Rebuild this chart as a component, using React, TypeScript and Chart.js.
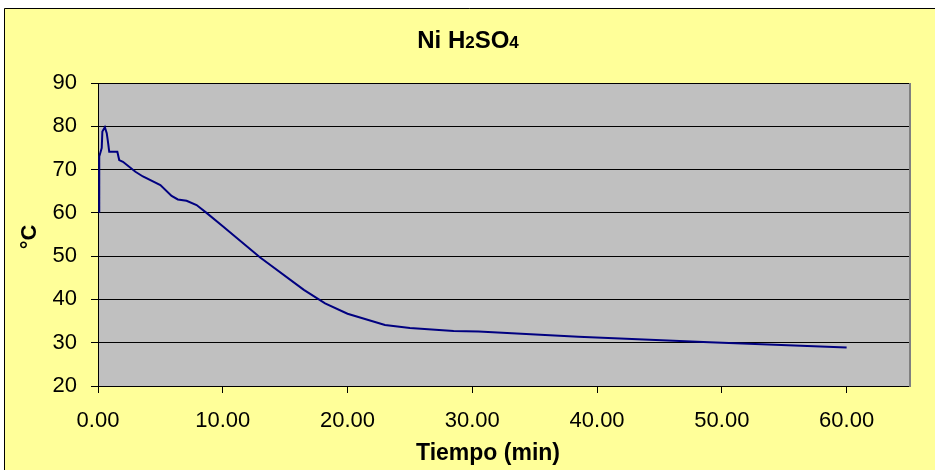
import React, { useEffect, useRef } from "react";
import { Chart, registerables } from "chart.js";

Chart.register(...registerables);

const tiempo = [0.1, 0.1, 0.2, 0.3, 0.35, 0.55, 0.7, 0.8, 0.9, 1.55, 1.7, 2.0, 3.0, 3.6, 5.0, 5.9, 6.4, 7.1, 7.9, 8.7, 10.0, 13.0, 16.5, 18.2, 20.0, 23.0, 25.0, 28.5, 30.5, 38.5, 49.0, 60.0];
const temperatura = [60, 73, 74, 75, 78.8, 79.8, 78.4, 76.4, 74.1, 74.1, 72.2, 71.8, 69.5, 68.4, 66.4, 63.9, 63.1, 62.8, 61.8, 60.0, 56.9, 49.7, 42.2, 39.1, 36.7, 34.1, 33.4, 32.7, 32.6, 31.4, 30.1, 28.9];

const titleParts: [string, boolean][] = [["Ni H", false], ["2", true], ["SO", false], ["4", true]];
const xTitle = "Tiempo (min)";
const yTitle = "°C";

const FONT = "'Liberation Sans', Arial, sans-serif";

const decorPlugin = {
  id: "decor",
  beforeDraw(chart: any) {
    const { ctx, chartArea } = chart;
    ctx.save();
    ctx.fillStyle = "#ffffff";
    ctx.fillRect(0, 0, chart.width, chart.height);
    ctx.fillStyle = "#FFFF99";
    ctx.fillRect(4, 8, chart.width - 4, chart.height - 8);
    ctx.strokeStyle = "#000000";
    ctx.lineWidth = 1;
    ctx.beginPath();
    ctx.moveTo(4.5, chart.height);
    ctx.lineTo(4.5, 8.5);
    ctx.lineTo(chart.width, 8.5);
    ctx.stroke();
    ctx.fillStyle = "#C0C0C0";
    ctx.fillRect(chartArea.left, chartArea.top, chartArea.right - chartArea.left, chartArea.bottom - chartArea.top);
    ctx.restore();
  },
  afterDraw(chart: any) {
    const { ctx, chartArea } = chart;
    ctx.save();
    ctx.strokeStyle = "#808080";
    ctx.lineWidth = 2;
    ctx.beginPath();
    ctx.moveTo(chartArea.right + 1, chartArea.top);
    ctx.lineTo(chartArea.right + 1, chartArea.bottom + 1);
    ctx.stroke();
    ctx.fillStyle = "#000000";
    ctx.textBaseline = "alphabetic";
    ctx.textAlign = "left";
    let total = 0;
    const widths: number[] = [];
    for (const [t, sub] of titleParts) {
      ctx.font = `bold ${sub ? 17 : 24}px ${FONT}`;
      const w = ctx.measureText(t).width;
      widths.push(w);
      total += w;
    }
    let x = 468 - total / 2;
    titleParts.forEach(([t, sub], i) => {
      ctx.font = `bold ${sub ? 17 : 24}px ${FONT}`;
      ctx.fillText(t, x, 48);
      x += widths[i];
    });
    ctx.font = `bold 23px ${FONT}`;
    ctx.textAlign = "center";
    ctx.fillText(xTitle, 488, 460);
    ctx.font = `bold 22px ${FONT}`;
    ctx.translate(30, 237);
    ctx.rotate(-Math.PI / 2);
    ctx.textBaseline = "middle";
    ctx.fillText(yTitle, 0, 0);
    ctx.restore();
  },
};

export default function App() {
  const ref = useRef<HTMLCanvasElement | null>(null);
  useEffect(() => {
    if (!ref.current) return;
    const chart = new Chart(ref.current, {
      type: "scatter",
      data: {
        datasets: [
          {
            data: tiempo.map((t, i) => ({ x: t, y: temperatura[i] })),
            showLine: true,
            borderColor: "#000080",
            borderWidth: 2,
            pointRadius: 0,
            tension: 0,
          },
        ],
      },
      options: {
        responsive: false,
        animation: false,
        devicePixelRatio: 1,
        layout: { padding: { top: 83, right: 26, left: 0, bottom: 0 } },
        plugins: {
          legend: { display: false },
          title: { display: false },
          tooltip: { enabled: false },
        },
        scales: {
          x: {
            type: "linear",
            min: 0,
            max: 65,
            afterFit: (s: any) => {
              s.height = 84;
            },
            ticks: {
              stepSize: 10,
              includeBounds: false,
              padding: 15,
              color: "#000000",
              font: { family: FONT, size: 22 },
              callback: (v: any) => Number(v).toFixed(2),
              maxRotation: 0,
            },
            grid: { drawOnChartArea: false, drawTicks: true, tickLength: 7, color: "#000000" },
            border: { display: true, color: "#000000", width: 1 },
          },
          y: {
            type: "linear",
            min: 20,
            max: 90,
            afterFit: (s: any) => {
              s.width = 98;
            },
            ticks: {
              stepSize: 10,
              padding: 14,
              color: "#000000",
              font: { family: FONT, size: 22 },
            },
            grid: { drawTicks: true, tickLength: 7, color: "#000000" },
            border: { display: true, color: "#000000", width: 1 },
          },
        },
      },
      plugins: [decorPlugin],
    });
    return () => chart.destroy();
  }, []);
  return (
    <div style={{ position: "fixed", left: 0, top: 0, width: 935, height: 470 }}>
      <canvas ref={ref} width={935} height={470} style={{ display: "block", width: 935, height: 470 }} />
    </div>
  );
}
